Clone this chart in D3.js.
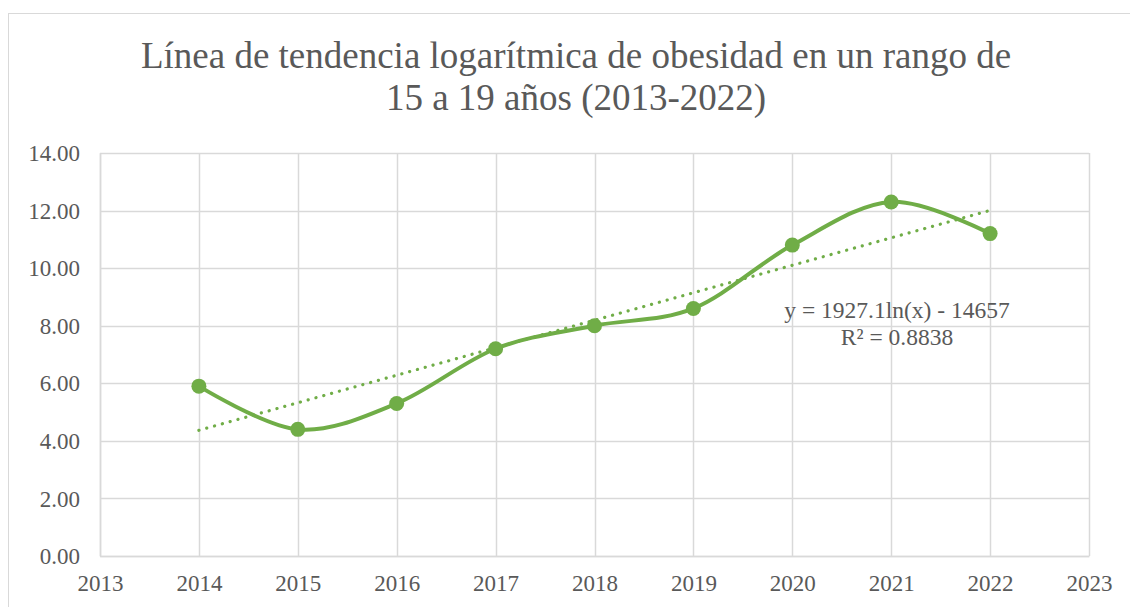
<!DOCTYPE html>
<html>
<head>
<meta charset="utf-8">
<script src="https://cdn.jsdelivr.net/npm/d3@7"></script>
<style>
  body { margin: 0; background: #fff; }
  svg { display: block; font-family: "Liberation Serif", "Times New Roman", serif; }
</style>
</head>
<body>
<svg id="chart" width="1130" height="607"></svg>
<script>
// data
const years = [2014, 2015, 2016, 2017, 2018, 2019, 2020, 2021, 2022];
const values = [5.9, 4.4, 5.3, 7.2, 8.0, 8.6, 10.8, 12.3, 11.2];
const yTicks = [0, 2, 4, 6, 8, 10, 12, 14];
const xTicks = [2013, 2014, 2015, 2016, 2017, 2018, 2019, 2020, 2021, 2022, 2023];
const titleLines = ['Línea de tendencia logarítmica de obesidad en un rango de', '15 a 19 años (2013-2022)'];
const eqLines = ['y = 1927.1ln(x) - 14657', 'R² = 0.8838'];

const green = '#70ad47';
const grid = '#d9d9d9';
const textColor = '#595959';
const serif = '"Liberation Serif", "Times New Roman", serif';

const svg = d3.select('#chart');
const margin = { top: 153, right: 41, bottom: 51, left: 100 };
const w = 1130 - margin.left - margin.right;
const h = 607 - margin.top - margin.bottom;

// outer chart border
svg.append('rect')
    .attr('x', 8.5).attr('y', 13.5)
    .attr('width', 1140).attr('height', 620)
    .attr('fill', 'none').attr('stroke', grid);

const x = d3.scaleLinear().domain([2013, 2023]).range([0, w]);
const y = d3.scaleLinear().domain([0, 14]).range([h, 0]);

const g = svg.append('g').attr('transform', `translate(${margin.left},${margin.top})`);

// gridlines
g.append('g')
    .selectAll('line')
    .data(yTicks)
    .join('line')
    .attr('x1', 0).attr('x2', w)
    .attr('y1', (d) => Math.round(y(d)) + 0.5)
    .attr('y2', (d) => Math.round(y(d)) + 0.5)
    .attr('stroke', grid).attr('stroke-width', 1.5);

g.append('g')
    .selectAll('line')
    .data(xTicks)
    .join('line')
    .attr('y1', 0).attr('y2', h)
    .attr('x1', (d) => Math.round(x(d)) + 0.5)
    .attr('x2', (d) => Math.round(x(d)) + 0.5)
    .attr('stroke', grid).attr('stroke-width', 1.5);

// axes (labels only, lines come from the grid)
const yAxis = g.append('g')
    .call(d3.axisLeft(y).tickValues(yTicks).tickFormat(d3.format('.2f')).tickSize(0).tickPadding(20));
const xAxis = g.append('g')
    .attr('transform', `translate(0,${h})`)
    .call(d3.axisBottom(x).tickValues(xTicks).tickFormat(d3.format('d')).tickSize(0).tickPadding(19));

[yAxis, xAxis].forEach((a) => {
    a.attr('font-family', serif).attr('font-size', 23);
    a.select('.domain').attr('stroke', grid).attr('stroke-width', 1.5);
    a.selectAll('text').attr('fill', textColor);
});
yAxis.selectAll('text').attr('dy', '0.33em');

// logarithmic trend line fitted from the data
const lx = years.map((d) => Math.log(d));
const mx = d3.mean(lx);
const my = d3.mean(values);
const slope = d3.sum(lx, (d, i) => (d - mx) * (values[i] - my)) / d3.sum(lx, (d) => (d - mx) ** 2);
const intercept = my - slope * mx;
const trend = years.map((d) => ({ year: d, v: slope * Math.log(d) + intercept }));

g.append('path')
    .datum(trend)
    .attr('fill', 'none')
    .attr('stroke', green)
    .attr('stroke-width', 3.2)
    .attr('stroke-linecap', 'round')
    .attr('stroke-dasharray', '0.1 8')
    .attr('d', d3.line().x((d) => x(d.year)).y((d) => y(d.v)));

// smoothed series
const series = years.map((d, i) => ({ year: d, v: values[i] }));

g.append('path')
    .datum(series)
    .attr('fill', 'none')
    .attr('stroke', green)
    .attr('stroke-width', 4)
    .attr('stroke-linejoin', 'round')
    .attr('d', d3.line().curve(d3.curveCardinal.tension(0)).x((d) => x(d.year)).y((d) => y(d.v)));

g.append('g')
    .selectAll('circle')
    .data(series)
    .join('circle')
    .attr('cx', (d) => x(d.year))
    .attr('cy', (d) => y(d.v))
    .attr('r', 7.5)
    .attr('fill', green);

// trend equation
svg.append('g')
    .selectAll('text')
    .data(eqLines)
    .join('text')
    .attr('x', 897)
    .attr('y', (d, i) => 318 + i * 27)
    .attr('text-anchor', 'middle')
    .attr('fill', textColor)
    .attr('font-family', serif)
    .attr('font-size', 23.5)
    .text((d) => d);

// title
svg.append('g')
    .selectAll('text')
    .data(titleLines)
    .join('text')
    .attr('x', 576)
    .attr('y', (d, i) => 68 + i * 42)
    .attr('text-anchor', 'middle')
    .attr('fill', textColor)
    .attr('font-family', serif)
    .attr('font-size', 37)
    .text((d) => d);
</script>
</body>
</html>
